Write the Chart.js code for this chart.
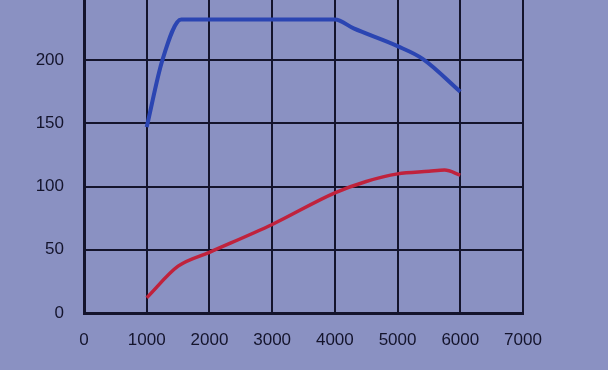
<!DOCTYPE html>
<html>
<head>
<meta charset="utf-8">
<script src="https://cdn.jsdelivr.net/npm/chart.js@4.4.0/dist/chart.umd.min.js"></script>
<style>
  html, body { margin: 0; padding: 0; background: #8a91c2; }
  #wrap { width: 608px; height: 370px; }
</style>
</head>
<body>
<div id="wrap"><canvas id="chartCanvas" width="608" height="370"></canvas></div>
<script>
// engine speed (rpm) against torque (blue) and power (red)
var x_ticks = [0, 1000, 2000, 3000, 4000, 5000, 6000, 7000];
var y_ticks = [0, 50, 100, 150, 200];

var torque_rpm = [1000, 1250, 1550, 4000, 4300, 5000, 5400, 6000];
var torque = [147, 200, 232, 232, 225, 211, 201, 175];

var power_rpm = [1000, 1500, 2000, 3000, 4000, 4500, 5000, 5500, 5750, 6000];
var power = [12, 37, 48, 70, 95, 104, 110, 112, 113, 109];

function points(xs, ys) {
    return xs.map(function (x, i) { return {x: x, y: ys[i]}; });
}

var ink = '#14142c';

const chart = new Chart(document.getElementById('chartCanvas'), {
    type: 'line',
    data: {
        datasets: [{
            label: 'Torque',
            data: points(torque_rpm, torque),
            borderColor: '#2b45b2',
            borderWidth: 4,
            pointRadius: 0,
            cubicInterpolationMode: 'monotone'
        },
        {
            label: 'Power',
            data: points(power_rpm, power),
            borderColor: '#c0223c',
            borderWidth: 3.5,
            pointRadius: 0,
            cubicInterpolationMode: 'monotone'
        }]
    },
    options: {
        responsive: false,
        animation: false,
        layout: {padding: {left: 0, top: 0, right: 85, bottom: 0}},
        plugins: {legend: {display: false}, tooltip: {enabled: false}},
        scales: {
            x: {
                type: 'linear',
                min: 0,
                max: 7000,
                afterBuildTicks: function (scale) {
                    scale.ticks = x_ticks.map(function (v) { return {value: v}; });
                },
                afterFit: function (scale) { scale.height = 57; },
                grid: {color: ink, lineWidth: 2, drawTicks: false},
                border: {color: ink, width: 3},
                ticks: {
                    color: ink,
                    padding: 17,
                    maxRotation: 0,
                    font: {family: 'Liberation Sans', size: 17},
                    callback: function (v) { return String(v); }
                }
            },
            y: {
                min: 0,
                max: 247.5,
                afterBuildTicks: function (scale) {
                    scale.ticks = y_ticks.map(function (v) { return {value: v}; });
                },
                afterFit: function (scale) {
                    scale.width = 84;
                    scale.paddingTop = 0;
                    scale.paddingBottom = 0;
                },
                grid: {color: ink, lineWidth: 2, drawTicks: false},
                border: {color: ink, width: 3},
                ticks: {
                    color: ink,
                    padding: 20,
                    font: {family: 'Liberation Sans', size: 17}
                }
            }
        }
    }
});
</script>
</body>
</html>
